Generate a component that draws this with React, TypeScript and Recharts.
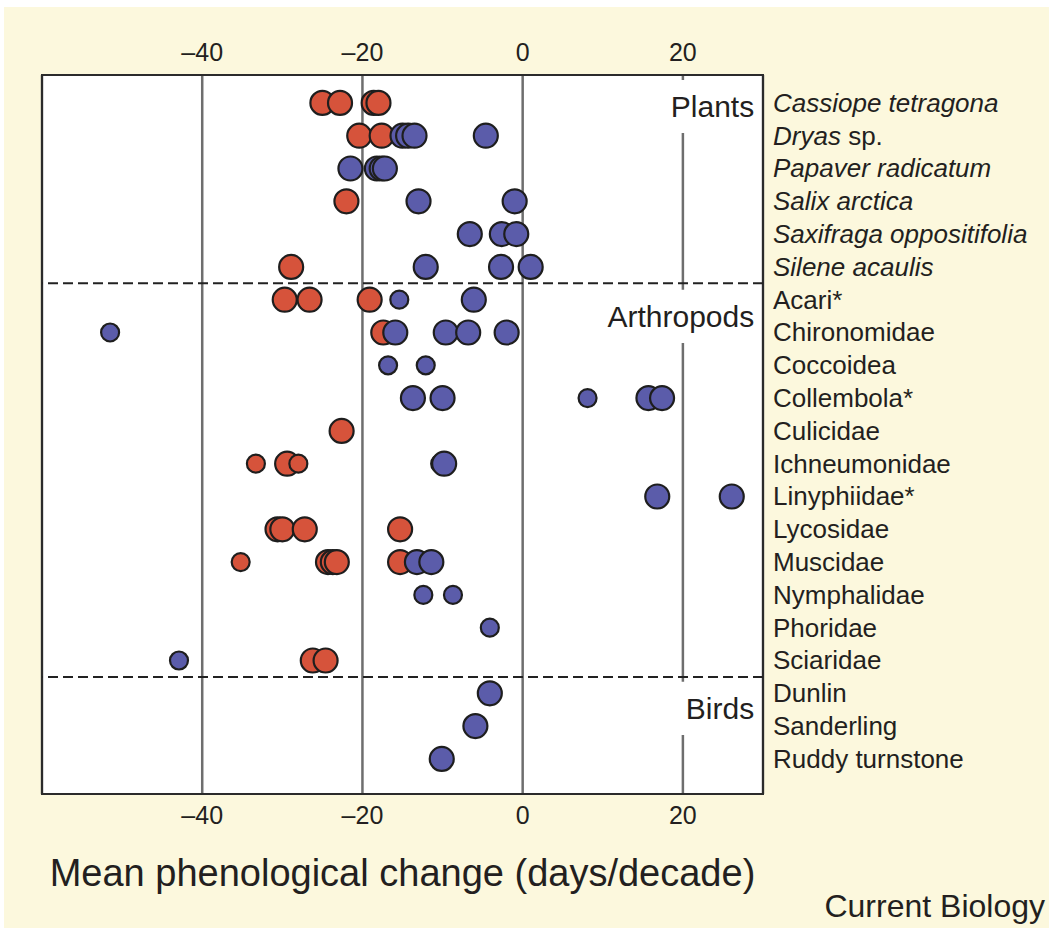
import React from 'react'
import {
    ScatterChart,
    Scatter,
    XAxis,
    YAxis,
    ZAxis,
    CartesianGrid,
    ReferenceLine,
    ReferenceArea,
} from 'recharts'

const FONT = '"Liberation Sans", Arial, Helvetica, sans-serif'
const INK = '#231f20'

// Species groups, top to bottom
const plants = [
    'Cassiope tetragona',
    'Dryas sp.',
    'Papaver radicatum',
    'Salix arctica',
    'Saxifraga oppositifolia',
    'Silene acaulis',
]
const arthropods = [
    'Acari*',
    'Chironomidae',
    'Coccoidea',
    'Collembola*',
    'Culicidae',
    'Ichneumonidae',
    'Linyphiidae*',
    'Lycosidae',
    'Muscidae',
    'Nymphalidae',
    'Phoridae',
    'Sciaridae',
]
const birds = ['Dunlin', 'Sanderling', 'Ruddy turnstone']
const categories = [...plants, ...arthropods, ...birds]

const xTicks = [-40, -20, 0, 20]

// [species, mean change (days/decade), marker size class 1 = small, 2 = large]
type Obs = [string, number, number]

const redPlants: Obs[] = [
    ['Cassiope tetragona', -25, 2],
    ['Cassiope tetragona', -22.8, 2],
    ['Cassiope tetragona', -18.6, 2],
    ['Cassiope tetragona', -18, 2],
    ['Dryas sp.', -20.4, 2],
    ['Dryas sp.', -17.6, 2],
    ['Salix arctica', -22, 2],
    ['Silene acaulis', -28.9, 2],
]
const bluePlants: Obs[] = [
    ['Dryas sp.', -15, 2],
    ['Dryas sp.', -14.3, 2],
    ['Dryas sp.', -13.5, 2],
    ['Dryas sp.', -4.6, 2],
    ['Papaver radicatum', -21.5, 2],
    ['Papaver radicatum', -18.2, 2],
    ['Papaver radicatum', -17.6, 2],
    ['Papaver radicatum', -17.2, 2],
    ['Salix arctica', -13, 2],
    ['Salix arctica', -1, 2],
    ['Saxifraga oppositifolia', -6.6, 2],
    ['Saxifraga oppositifolia', -2.6, 2],
    ['Saxifraga oppositifolia', -0.8, 2],
    ['Silene acaulis', -12.1, 2],
    ['Silene acaulis', -2.7, 2],
    ['Silene acaulis', 1, 2],
]
const redArthropods: Obs[] = [
    ['Acari*', -29.7, 2],
    ['Acari*', -26.6, 2],
    ['Acari*', -19.1, 2],
    ['Chironomidae', -17.4, 2],
    ['Culicidae', -22.6, 2],
    ['Ichneumonidae', -33.3, 1],
    ['Ichneumonidae', -29.4, 2],
    ['Ichneumonidae', -28, 1],
    ['Lycosidae', -30.6, 2],
    ['Lycosidae', -30, 2],
    ['Lycosidae', -27.2, 2],
    ['Lycosidae', -15.3, 2],
    ['Muscidae', -35.2, 1],
    ['Muscidae', -24.3, 2],
    ['Muscidae', -23.7, 2],
    ['Muscidae', -23.2, 2],
    ['Muscidae', -15.3, 2],
    ['Sciaridae', -26.2, 2],
    ['Sciaridae', -24.6, 2],
]
const blueArthropods: Obs[] = [
    ['Acari*', -15.4, 1],
    ['Acari*', -6.1, 2],
    ['Chironomidae', -51.5, 1],
    ['Chironomidae', -15.9, 2],
    ['Chironomidae', -9.6, 2],
    ['Chironomidae', -6.8, 2],
    ['Chironomidae', -2, 2],
    ['Coccoidea', -16.8, 1],
    ['Coccoidea', -12.1, 1],
    ['Collembola*', -13.7, 2],
    ['Collembola*', -10, 2],
    ['Collembola*', 8.1, 1],
    ['Collembola*', 15.7, 2],
    ['Collembola*', 17.4, 2],
    ['Ichneumonidae', -10.3, 1],
    ['Ichneumonidae', -9.8, 2],
    ['Linyphiidae*', 16.8, 2],
    ['Linyphiidae*', 26.1, 2],
    ['Muscidae', -13.2, 2],
    ['Muscidae', -11.4, 2],
    ['Nymphalidae', -12.4, 1],
    ['Nymphalidae', -8.7, 1],
    ['Phoridae', -4.1, 1],
    ['Sciaridae', -42.9, 1],
]
const blueBirds: Obs[] = [
    ['Dunlin', -4.1, 2],
    ['Sanderling', -5.9, 2],
    ['Ruddy turnstone', -10.1, 2],
]

const toPoints = (rows: Obs[]) =>
    rows.map(([species, change, n]) => ({ row: categories.indexOf(species), change, n }))

const redData = toPoints([...redPlants, ...redArthropods])
const blueData = toPoints([...bluePlants, ...blueArthropods, ...blueBirds])

const fmt = (v: number) => (v < 0 ? `\u2013${Math.abs(v)}` : `${v}`)

const TopTick = (props: any) => (
    <text x={props.x} y={props.y - 15} textAnchor='middle' dominantBaseline='central'
        fontSize={25} fontFamily={FONT} fill={INK}>
        {fmt(props.payload.value)}
    </text>
)

const BottomTick = (props: any) => (
    <text x={props.x} y={props.y + 13} textAnchor='middle' dominantBaseline='central'
        fontSize={25} fontFamily={FONT} fill={INK}>
        {fmt(props.payload.value)}
    </text>
)

const CategoryTick = (props: any) => {
    const name = categories[props.payload.value]
    if (name === undefined) return null
    const italic = props.payload.value < plants.length
    const common = { x: props.x + 2, y: props.y, dominantBaseline: 'central' as const,
        fontSize: 26, fontFamily: FONT, fill: INK, textAnchor: 'start' as const }
    if (italic && name.endsWith(' sp.')) {
        return (
            <text {...common}>
                <tspan fontStyle='italic'>{name.replace(' sp.', '')}</tspan>
                <tspan> sp.</tspan>
            </text>
        )
    }
    return <text {...common} fontStyle={italic ? 'italic' : 'normal'}>{name}</text>
}

const makeDot = (color: string) => (props: any) => {
    const r = props.width ? props.width / 2 : 10
    return <circle cx={props.cx} cy={props.cy} r={r} fill={color} stroke='#1e1e1e' strokeWidth={2.2} />
}

const groupLabel = (text: string) => (props: any) => {
    const vb = props.viewBox
    return (
        <text x={vb.x + vb.width} y={vb.y + vb.height / 2} textAnchor='end' dominantBaseline='central'
            fontSize={30} fontFamily={FONT} fill={INK}>
            {text}
        </text>
    )
}

const titleLabel = (props: any) => {
    const vb = props.viewBox
    return (
        <text x={vb.x + vb.width / 2} y={vb.y + 79} textAnchor='middle' dominantBaseline='central'
            fontSize={38} fontFamily={FONT} fill={INK}>
            Mean phenological change (days/decade)
        </text>
    )
}

export default function App() {
    const yDomain = [-0.85, 21.07]
    const firstDash = plants.length - 0.5
    const secondDash = plants.length + arthropods.length - 0.5
    return (
        <div style={{ position: 'absolute', left: 0, top: 0, width: 1049, height: 935, background: '#fff' }}>
            <div style={{ position: 'absolute', left: 4, top: 7, width: 1045, height: 921, background: '#fcf8dd' }} />
            <div style={{ position: 'absolute', left: 0, top: 0 }}>
                <ScatterChart width={1049} height={935} margin={{ top: 35, right: 6, bottom: 81, left: 42 }}>
                    <CartesianGrid horizontal={false} fill='#fff' fillOpacity={1} stroke='#6e6e6e' strokeWidth={2.5} />
                    <XAxis xAxisId='top' orientation='top' type='number' dataKey='change' domain={[-60, 30]}
                        ticks={xTicks} allowDataOverflow height={40} axisLine={false} tickLine={false}
                        tick={<TopTick />} />
                    <XAxis type='number' dataKey='change' domain={[-60, 30]} ticks={xTicks} allowDataOverflow
                        height={60} axisLine={false} tickLine={false} tick={<BottomTick />} label={titleLabel} />
                    <YAxis type='number' dataKey='row' orientation='right' domain={yDomain} reversed
                        allowDataOverflow ticks={categories.map((_, i) => i)} interval={0} width={280}
                        axisLine={false} tickLine={false} tick={<CategoryTick />} />
                    <ZAxis type='number' dataKey='n' domain={[1, 2]} range={[254, 452]} />

                    <ReferenceLine y={firstDash} stroke='#222' strokeWidth={2} strokeDasharray='10 5' />
                    <ReferenceLine y={secondDash} stroke='#222' strokeWidth={2} strokeDasharray='10 5' />

                    <ReferenceArea x1={10} x2={28.9} y1={-0.7} y2={0.915} fill='#fff' fillOpacity={1}
                        stroke='none' label={groupLabel('Plants')} />
                    <ReferenceArea x1={10} x2={28.9} y1={5.7} y2={7.32} fill='#fff' fillOpacity={1}
                        stroke='none' label={groupLabel('Arthropods')} />
                    <ReferenceArea x1={10} x2={28.9} y1={17.65} y2={19.27} fill='#fff' fillOpacity={1}
                        stroke='none' label={groupLabel('Birds')} />

                    <Scatter data={redData} shape={makeDot('#d6533b')} isAnimationActive={false} />
                    <Scatter data={blueData} shape={makeDot('#5b5caa')} isAnimationActive={false} />

                    <ReferenceArea x1={-60} x2={30} y1={yDomain[0]} y2={yDomain[1]} fill='none'
                        stroke='#2b2b2b' strokeWidth={2} ifOverflow='visible' />
                </ScatterChart>
            </div>
            <div style={{ position: 'absolute', right: 4, top: 890, fontFamily: FONT, fontSize: 32,
                lineHeight: 1, color: INK }}>
                Current Biology
            </div>
        </div>
    )
}
